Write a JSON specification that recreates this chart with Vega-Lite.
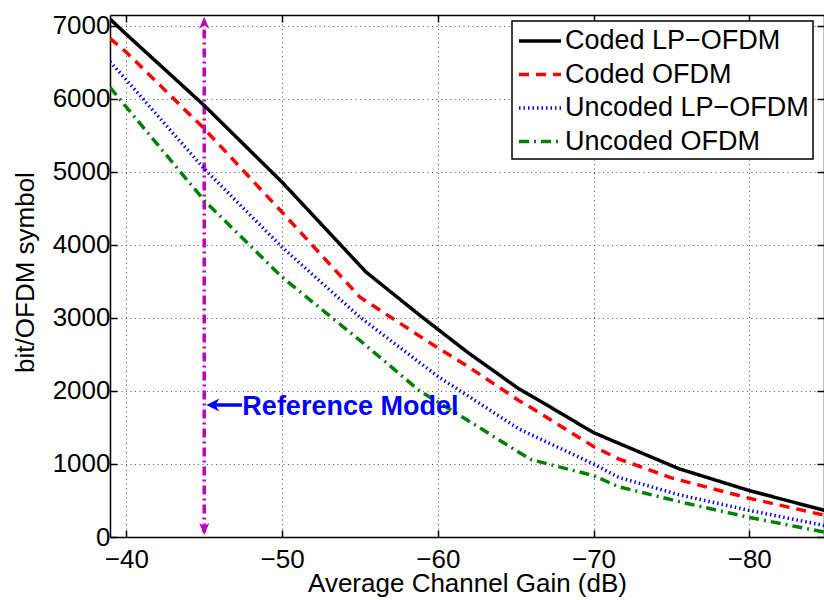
{
  "$schema": "https://vega.github.io/schema/vega-lite/v6.json",
  "width": 714,
  "height": 522,
  "autosize": {"type": "none"},
  "padding": {"left": 110, "top": 15, "right": 0, "bottom": 63},
  "background": "white",
  "config": {
    "view": {"stroke": null},
    "font": "Liberation Sans",
    "axis": {
      "labelFont": "Liberation Sans",
      "titleFont": "Liberation Sans",
      "labelColor": "black",
      "titleColor": "black",
      "domainColor": "black",
      "domainWidth": 1.5,
      "tickColor": "black",
      "tickWidth": 1.5,
      "labelFontSize": 26,
      "titleFontSize": 26,
      "titleFontWeight": "normal",
      "gridColor": "#555555",
      "gridDash": [1, 3.5],
      "gridWidth": 1,
      "gridOpacity": 1
    }
  },
  "resolve": {"axis": {"x": "independent", "y": "independent"}},
  "layer": [
    {
      "data": {"values": [{"gain": -45, "lo": 60, "hi": 7090}]},
      "mark": {"type": "rule", "color": "#bf00bf", "strokeWidth": 3.5, "strokeDash": [9, 4, 2, 4]},
      "encoding": {
        "x": {
          "field": "gain",
          "type": "quantitative",
          "scale": {"domain": [-84.8, -38.95], "reverse": true, "nice": false, "zero": false},
          "axis": {
            "orient": "bottom",
            "values": [-40, -50, -60, -70, -80],
            "title": "Average Channel Gain (dB)",
            "titleY": 54,
            "titleBaseline": "alphabetic",
            "grid": true,
            "tickSize": -7,
            "labelPadding": 16
          }
        },
        "y": {
          "field": "lo",
          "type": "quantitative",
          "scale": {"domain": [0, 7150], "nice": false},
          "axis": {
            "orient": "left",
            "values": [0, 1000, 2000, 3000, 4000, 5000, 6000, 7000],
            "format": "d",
            "title": "bit/OFDM symbol",
            "titleX": -85,
            "titleY": 257,
            "titleAngle": -90,
            "titleAlign": "center",
            "titleBaseline": "middle",
            "grid": true,
            "tickSize": -7,
            "labelPadding": 7
          }
        },
        "y2": {"field": "hi"}
      }
    },
    {
      "data": {
        "values": [
          {"series": "Coded LP−OFDM", "gain": -38.95, "bits": 7095},
          {"series": "Coded LP−OFDM", "gain": -40, "bits": 6885},
          {"series": "Coded LP−OFDM", "gain": -45, "bits": 5911},
          {"series": "Coded LP−OFDM", "gain": -50, "bits": 4860},
          {"series": "Coded LP−OFDM", "gain": -55.4, "bits": 3627},
          {"series": "Coded LP−OFDM", "gain": -59, "bits": 3011},
          {"series": "Coded LP−OFDM", "gain": -61.9, "bits": 2532},
          {"series": "Coded LP−OFDM", "gain": -65.2, "bits": 2030},
          {"series": "Coded LP−OFDM", "gain": -66.7, "bits": 1846},
          {"series": "Coded LP−OFDM", "gain": -70, "bits": 1430},
          {"series": "Coded LP−OFDM", "gain": -71.6, "bits": 1285},
          {"series": "Coded LP−OFDM", "gain": -75.5, "bits": 934},
          {"series": "Coded LP−OFDM", "gain": -80, "bits": 636},
          {"series": "Coded LP−OFDM", "gain": -85, "bits": 355},
          {"series": "Coded OFDM", "gain": -38.95, "bits": 6830},
          {"series": "Coded OFDM", "gain": -40, "bits": 6640},
          {"series": "Coded OFDM", "gain": -45, "bits": 5592},
          {"series": "Coded OFDM", "gain": -50, "bits": 4449},
          {"series": "Coded OFDM", "gain": -55, "bits": 3285},
          {"series": "Coded OFDM", "gain": -60, "bits": 2590},
          {"series": "Coded OFDM", "gain": -61.9, "bits": 2340},
          {"series": "Coded OFDM", "gain": -65.2, "bits": 1870},
          {"series": "Coded OFDM", "gain": -66, "bits": 1770},
          {"series": "Coded OFDM", "gain": -70, "bits": 1240},
          {"series": "Coded OFDM", "gain": -71.6, "bits": 1071},
          {"series": "Coded OFDM", "gain": -75, "bits": 810},
          {"series": "Coded OFDM", "gain": -80, "bits": 530},
          {"series": "Coded OFDM", "gain": -85, "bits": 290},
          {"series": "Uncoded LP−OFDM", "gain": -38.95, "bits": 6510},
          {"series": "Uncoded LP−OFDM", "gain": -40, "bits": 6260},
          {"series": "Uncoded LP−OFDM", "gain": -45, "bits": 5044},
          {"series": "Uncoded LP−OFDM", "gain": -50, "bits": 3970},
          {"series": "Uncoded LP−OFDM", "gain": -55, "bits": 3011},
          {"series": "Uncoded LP−OFDM", "gain": -60, "bits": 2200},
          {"series": "Uncoded LP−OFDM", "gain": -65.2, "bits": 1482},
          {"series": "Uncoded LP−OFDM", "gain": -70, "bits": 1000},
          {"series": "Uncoded LP−OFDM", "gain": -71.6, "bits": 819},
          {"series": "Uncoded LP−OFDM", "gain": -75.5, "bits": 578},
          {"series": "Uncoded LP−OFDM", "gain": -80, "bits": 365},
          {"series": "Uncoded LP−OFDM", "gain": -85, "bits": 150},
          {"series": "Uncoded OFDM", "gain": -38.95, "bits": 6160},
          {"series": "Uncoded OFDM", "gain": -40, "bits": 5888},
          {"series": "Uncoded OFDM", "gain": -45, "bits": 4610},
          {"series": "Uncoded OFDM", "gain": -50, "bits": 3559},
          {"series": "Uncoded OFDM", "gain": -55, "bits": 2692},
          {"series": "Uncoded OFDM", "gain": -58.8, "bits": 2007},
          {"series": "Uncoded OFDM", "gain": -61.6, "bits": 1641},
          {"series": "Uncoded OFDM", "gain": -65.2, "bits": 1162},
          {"series": "Uncoded OFDM", "gain": -66, "bits": 1060},
          {"series": "Uncoded OFDM", "gain": -70, "bits": 840},
          {"series": "Uncoded OFDM", "gain": -71.6, "bits": 690},
          {"series": "Uncoded OFDM", "gain": -75.5, "bits": 484},
          {"series": "Uncoded OFDM", "gain": -80, "bits": 268},
          {"series": "Uncoded OFDM", "gain": -85, "bits": 60}
        ]
      },
      "mark": {"type": "line", "clip": true, "strokeCap": "butt"},
      "encoding": {
        "x": {
          "field": "gain",
          "type": "quantitative",
          "axis": {"orient": "top", "labels": false, "title": null, "grid": false, "tickSize": -7, "values": [-40, -50, -60, -70, -80]}
        },
        "y": {
          "field": "bits",
          "type": "quantitative",
          "axis": {"orient": "right", "labels": false, "title": null, "grid": false, "tickSize": -7, "values": [0, 1000, 2000, 3000, 4000, 5000, 6000, 7000]}
        },
        "color": {
          "field": "series",
          "type": "nominal",
          "scale": {
            "domain": ["Coded LP−OFDM", "Coded OFDM", "Uncoded LP−OFDM", "Uncoded OFDM"],
            "range": ["#000000", "#ff0000", "#0000ff", "#008000"]
          },
          "legend": {
            "title": null,
            "orient": "none",
            "legendX": 402,
            "legendY": 6,
            "direction": "vertical",
            "strokeColor": "black",
            "fillColor": "white",
            "padding": 4,
            "labelFont": "Liberation Sans",
            "labelFontSize": 27,
            "labelColor": "black",
            "labelLimit": 400,
            "symbolType": "M-1.5,0H1.5",
            "symbolSize": 784,
            "symbolOffset": 8,
            "labelOffset": 9,
            "rowPadding": 4.5,
            "encode": {"legend": {"update": {"strokeWidth": {"value": 1.5}}}}
          }
        },
        "strokeDash": {
          "field": "series",
          "type": "nominal",
          "scale": {
            "domain": ["Coded LP−OFDM", "Coded OFDM", "Uncoded LP−OFDM", "Uncoded OFDM"],
            "range": [[1, 0], [10, 7], [1.5, 3], [10, 5, 2, 5]]
          },
          "legend": {"title": null}
        },
        "strokeWidth": {
          "field": "series",
          "type": "nominal",
          "scale": {
            "domain": ["Coded LP−OFDM", "Coded OFDM", "Uncoded LP−OFDM", "Uncoded OFDM"],
            "range": [3.5, 3.5, 1.2, 3]
          },
          "legend": {"title": null}
        }
      }
    },
    {
      "data": {"values": [{"gain": -45, "bits": 7045}]},
      "mark": {"type": "point", "filled": true, "color": "#bf00bf", "size": 144, "opacity": 1, "shape": "M0,-1L0.85,1L0,0.45L-0.85,1Z"},
      "encoding": {
        "x": {"field": "gain", "type": "quantitative", "axis": null},
        "y": {"field": "bits", "type": "quantitative", "axis": null}
      }
    },
    {
      "data": {"values": [{"gain": -45, "bits": 110}]},
      "mark": {"type": "point", "filled": true, "color": "#bf00bf", "size": 144, "opacity": 1, "shape": "M0,1L0.85,-1L0,-0.45L-0.85,-1Z"},
      "encoding": {
        "x": {"field": "gain", "type": "quantitative", "axis": null},
        "y": {"field": "bits", "type": "quantitative", "axis": null}
      }
    },
    {
      "data": {"values": [{"x1": -45.7, "x2": -47.42, "bits": 1808}]},
      "mark": {"type": "rule", "color": "#0000ff", "strokeWidth": 3.5},
      "encoding": {
        "x": {"field": "x1", "type": "quantitative", "axis": null},
        "x2": {"field": "x2"},
        "y": {"field": "bits", "type": "quantitative", "axis": null}
      }
    },
    {
      "data": {"values": [{"gain": -45.55, "bits": 1808}]},
      "mark": {"type": "point", "filled": true, "color": "#0000ff", "size": 169, "opacity": 1, "shape": "M-1,0L1,-1L0.4,0L1,1Z"},
      "encoding": {
        "x": {"field": "gain", "type": "quantitative", "axis": null},
        "y": {"field": "bits", "type": "quantitative", "axis": null}
      }
    },
    {
      "data": {"values": [{"gain": -47.45, "bits": 1671, "label": "Reference Model"}]},
      "mark": {"type": "text", "align": "left", "baseline": "alphabetic", "font": "Liberation Sans", "fontWeight": "bold", "fontSize": 27, "color": "#0000ff"},
      "encoding": {
        "x": {"field": "gain", "type": "quantitative", "axis": null},
        "y": {"field": "bits", "type": "quantitative", "axis": null},
        "text": {"field": "label"}
      }
    }
  ]
}
